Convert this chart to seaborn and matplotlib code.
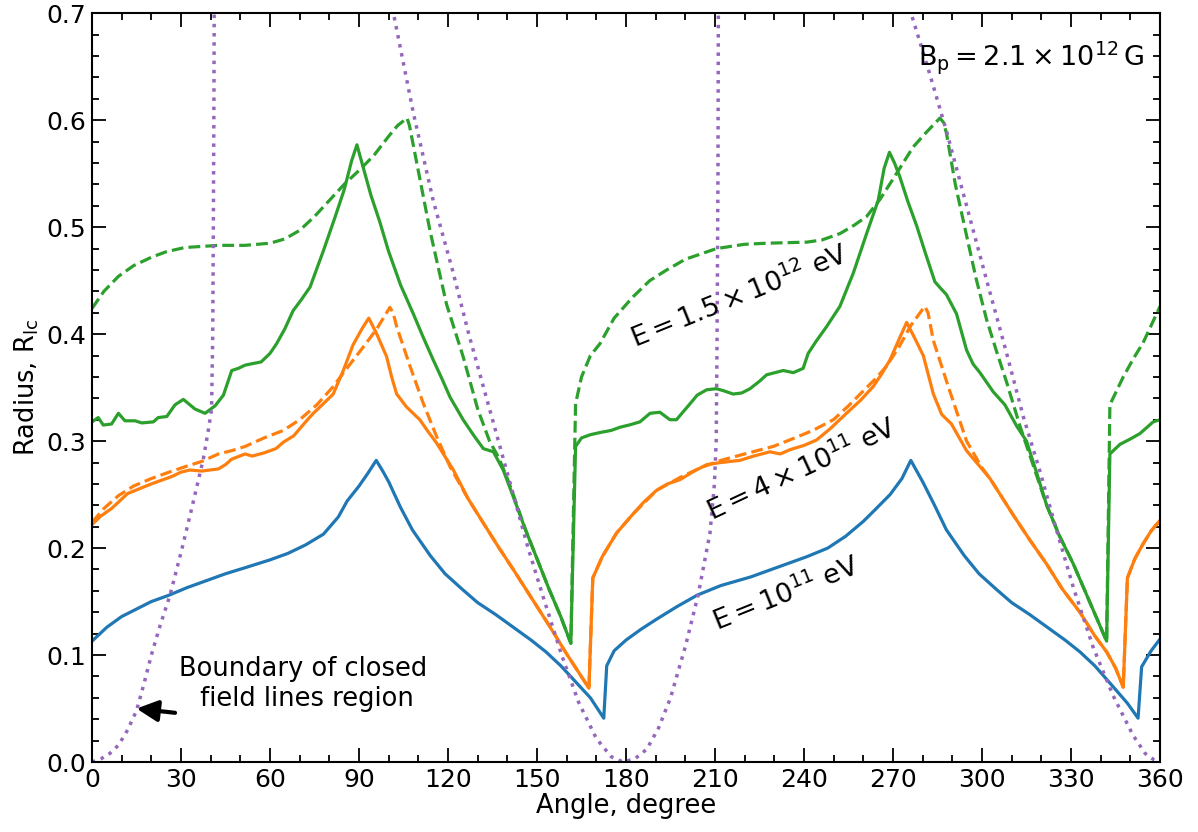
import numpy as np
import pandas as pd
import matplotlib
matplotlib.use("Agg")
import matplotlib.pyplot as plt
import seaborn as sns

# --- data (angle in degree, radius in R_lc) ---
blue_x = [0, 5, 10, 15, 20, 26, 32, 37, 45, 52, 60, 66, 72, 78, 83, 86, 90, 93, 95.8, 98, 100, 104, 108, 114,
          119, 125, 130, 136, 142, 148, 153, 158, 163, 168, 172.5, 173.5, 176, 180, 185, 190, 197, 204, 212, 222,
          232, 241, 248, 254, 260, 264, 269, 273, 276, 278, 280, 284, 288, 294, 299, 305, 310, 316, 322, 328,
          333, 338, 344, 349, 352.6, 353.8, 357, 360]
blue_y = [0.113, 0.126, 0.136, 0.143, 0.150, 0.156, 0.163, 0.168, 0.176, 0.182, 0.189, 0.195, 0.203, 0.213, 0.229,
          0.244, 0.258, 0.270, 0.282, 0.272, 0.262, 0.238, 0.217, 0.193, 0.176, 0.161, 0.149, 0.138, 0.126, 0.114,
          0.103, 0.090, 0.075, 0.060, 0.041, 0.090, 0.104, 0.114, 0.124, 0.133, 0.145, 0.156, 0.165, 0.173, 0.183,
          0.192, 0.200, 0.211, 0.225, 0.236, 0.250, 0.265, 0.282, 0.272, 0.262, 0.240, 0.217, 0.193, 0.176, 0.161,
          0.149, 0.138, 0.126, 0.114, 0.103, 0.090, 0.071, 0.055, 0.041, 0.089, 0.104, 0.115]

orange_x = [0, 3, 6.6, 12, 20, 27, 30, 33, 37, 42.6, 45, 47, 51.6, 54, 58, 62, 64.5, 68, 72, 74.6, 78, 81.3, 84.7,
            88, 91, 93.3, 96, 99.3, 101, 102.7, 106, 110.5, 113, 116.2, 121.8, 126.8, 132, 137, 142, 148, 154, 160,
            164, 167.5, 168.8, 172, 176.8, 182.4, 186, 190.3, 194, 198.2, 203, 207.2, 212, 218.4, 223, 228.5, 232,
            235.3, 240, 244.2, 249, 254.3, 259, 263.3, 266, 269, 272, 274.6, 277, 280.2, 283.6, 286.4, 289.7, 294.8,
            302.7, 310.5, 316, 321.8, 327, 333, 338, 342, 345, 347.6, 349, 351.5, 354.3, 357, 360]
orange_y = [0.222, 0.230, 0.237, 0.251, 0.260, 0.267, 0.271, 0.273, 0.272, 0.274, 0.278, 0.283, 0.288, 0.286, 0.289,
            0.293, 0.299, 0.305, 0.318, 0.326, 0.335, 0.344, 0.366, 0.390, 0.405, 0.415, 0.400, 0.379, 0.360, 0.344,
            0.332, 0.320, 0.310, 0.298, 0.273, 0.246, 0.223, 0.201, 0.180, 0.154, 0.128, 0.101, 0.084, 0.069, 0.172,
            0.192, 0.214, 0.232, 0.243, 0.254, 0.260, 0.264, 0.272, 0.278, 0.280, 0.282, 0.286, 0.290, 0.288, 0.292,
            0.296, 0.301, 0.312, 0.326, 0.338, 0.351, 0.362, 0.376, 0.395, 0.411, 0.398, 0.380, 0.344, 0.325, 0.316,
            0.291, 0.265, 0.231, 0.208, 0.185, 0.162, 0.140, 0.118, 0.103, 0.088, 0.070, 0.172, 0.190, 0.204, 0.216,
            0.226]

orange_d_x = [0, 4, 8.9, 14, 20, 26, 31.3, 37, 42.6, 47, 51.6, 58, 64.5, 70, 75.8, 81, 87, 92, 96, 100.4, 101.5,
              102.7, 107.2, 111.7, 116.2, 120.7, 126.8, 132, 137, 142, 148, 154, 160, 164, 167.5, 168.8, 172, 176.8,
              182.4, 190.3, 198.2, 205, 212, 220, 229.6, 236, 243, 249.9, 255, 260, 264, 267.8, 272, 276, 280.7,
              281.8, 283.6, 288.5, 294.8, 300, 302.7, 310.5, 316, 321.8, 327, 333, 338, 342, 345, 347.6, 349, 351.5,
              354.3, 357, 360]
orange_d_y = [0.224, 0.237, 0.249, 0.258, 0.265, 0.271, 0.276, 0.281, 0.288, 0.291, 0.295, 0.303, 0.310, 0.320,
              0.334, 0.350, 0.372, 0.390, 0.405, 0.425, 0.420, 0.407, 0.370, 0.335, 0.304, 0.276, 0.246, 0.223,
              0.201, 0.180, 0.154, 0.128, 0.101, 0.084, 0.069, 0.172, 0.192, 0.214, 0.232, 0.254, 0.266, 0.275,
              0.282, 0.288, 0.295, 0.302, 0.310, 0.320, 0.333, 0.347, 0.358, 0.370, 0.388, 0.408, 0.426, 0.420,
              0.394, 0.352, 0.300, 0.275, 0.265, 0.231, 0.208, 0.185, 0.162, 0.140, 0.118, 0.103, 0.088, 0.070,
              0.172, 0.190, 0.204, 0.216, 0.226]

green_x = [0, 2.1, 3.8, 6.6, 8.9, 11.1, 14.5, 16.8, 20.7, 22.3, 25.2, 28, 30.8, 34.7, 38.1, 41.5, 44.3, 47.1, 49.3,
           51.6, 53.3, 57, 60, 62.2, 65, 67.8, 70.5, 73.5, 78, 82, 85, 87.5, 89.3, 91, 94, 97, 99.9, 104, 108.3,
           111.5, 115, 118, 120.7, 125.1, 128.5, 131.9, 135.3, 138.6, 142, 146, 150, 154, 158, 161.4, 163, 165, 168,
           171.2, 175, 178, 181, 184.7, 188.1, 191.4, 194.8, 197, 201.6, 204, 207.2, 210.5, 213, 216.1, 219, 221.8,
           225, 227.4, 233, 236.4, 239.7, 241.4, 244, 247.6, 252.1, 256.6, 261.1, 265, 267, 268.8, 270.5, 272.3,
           275, 278, 281, 284.1, 286, 288, 291.4, 294.8, 297, 299.3, 303.8, 307.7, 311.7, 315, 318, 321.8, 326,
           330.8, 336.4, 342, 343.1, 346.5, 350, 353.2, 357.7, 360]
green_y = [0.318, 0.322, 0.315, 0.316, 0.326, 0.319, 0.319, 0.317, 0.318, 0.322, 0.323, 0.334, 0.339, 0.330, 0.326,
           0.333, 0.343, 0.366, 0.368, 0.371, 0.372, 0.374, 0.382, 0.391, 0.405, 0.422, 0.432, 0.444, 0.478, 0.510,
           0.535, 0.562, 0.577, 0.560, 0.530, 0.505, 0.478, 0.446, 0.419, 0.398, 0.376, 0.358, 0.341, 0.320, 0.306,
           0.293, 0.290, 0.273, 0.248, 0.218, 0.190, 0.162, 0.136, 0.111, 0.295, 0.303, 0.306, 0.308, 0.310, 0.313,
           0.315, 0.318, 0.326, 0.327, 0.320, 0.320, 0.335, 0.343, 0.348, 0.349, 0.347, 0.344, 0.345, 0.349, 0.356,
           0.362, 0.366, 0.364, 0.368, 0.382, 0.393, 0.407, 0.426, 0.457, 0.494, 0.525, 0.555, 0.570, 0.560, 0.547,
           0.524, 0.501, 0.475, 0.449, 0.443, 0.437, 0.419, 0.385, 0.372, 0.364, 0.346, 0.334, 0.314, 0.300, 0.274,
           0.240, 0.212, 0.185, 0.149, 0.113, 0.288, 0.297, 0.302, 0.307, 0.318, 0.320]

green_d_x = [0, 4, 8.9, 14, 20.1, 25, 31.3, 37, 42.6, 51.6, 60, 65, 70, 75, 80, 85, 90, 95, 100, 103, 106.2,
             107, 109.4, 113.9, 119.5, 125.2, 130, 134, 137, 140, 142, 146, 150, 154, 158, 161.4, 163, 165, 168,
             171.2, 176, 182.4, 188, 193.7, 200, 210.5, 220, 227.4, 240.9, 246, 252.1, 257, 261.1, 265.6, 270,
             276.8, 281, 285.8, 287, 288, 291, 294.8, 298, 301.5, 305, 308.3, 312.8, 317.3, 319, 321.8, 326, 330.8,
             336.4, 342, 343.1, 347.6, 351, 354.3, 357, 360]
green_d_y = [0.424, 0.440, 0.454, 0.464, 0.472, 0.477, 0.481, 0.482, 0.483, 0.483, 0.485, 0.489, 0.497, 0.510,
             0.525, 0.540, 0.553, 0.567, 0.585, 0.595, 0.602, 0.595, 0.561, 0.497, 0.428, 0.378, 0.330,
             0.300, 0.285, 0.265, 0.250, 0.218, 0.190, 0.162, 0.136, 0.111, 0.335, 0.360, 0.380, 0.391, 0.415,
             0.435, 0.450, 0.460, 0.470, 0.480, 0.484, 0.485, 0.486, 0.488, 0.494, 0.502, 0.510, 0.526, 0.545,
             0.575, 0.588, 0.602, 0.598, 0.588, 0.540, 0.492, 0.452, 0.414, 0.383, 0.355, 0.314, 0.277, 0.263,
             0.240, 0.212, 0.185, 0.149, 0.113, 0.334, 0.360, 0.377, 0.392, 0.408, 0.426]

# boundary of closed field lines region (goes off the top of the axes)
bound_x = [0, 3, 6, 9, 12, 15, 17.5, 20, 23, 26.3, 30.2, 33.6, 37.5, 39.2, 40.3, 40.7, 40.9, 41.1, 41.3, 95,
           101.6, 108.3, 115, 121.5, 127, 132, 137, 142, 147, 152, 158.3, 164, 170, 175, 179, 183, 187, 191, 195,
           200, 204.3, 208.3, 209.8, 210.4, 210.7, 211, 211.2, 270, 276.3, 282.4, 288, 294.8, 301.5, 308.3, 313.9,
           319.5, 325.1, 330.8, 337.5, 344.2, 350.9, 355, 358, 360]
bound_y = [0.0, 0.003, 0.008, 0.016, 0.030, 0.048, 0.073, 0.100, 0.128, 0.156, 0.198, 0.237, 0.283, 0.310, 0.330,
           0.400, 0.500, 0.620, 0.800, 0.790, 0.700, 0.607, 0.525, 0.460, 0.400, 0.350, 0.300, 0.250, 0.200, 0.155,
           0.100, 0.056, 0.022, 0.005, 0.0, 0.003, 0.012, 0.032, 0.060, 0.108, 0.156, 0.214, 0.260, 0.300, 0.400,
           0.550, 0.800, 0.790, 0.698, 0.643, 0.590, 0.520, 0.451, 0.382, 0.323, 0.272, 0.217, 0.163, 0.107, 0.062,
           0.025, 0.008, 0.002, 0.0]

xticks = list(range(0, 361, 30))
yticks = [0.0, 0.1, 0.2, 0.3, 0.4, 0.5, 0.6, 0.7]

sns.set_style("ticks")
plt.rcParams['font.family'] = ['DejaVu Sans']
plt.rcParams['mathtext.default'] = 'regular'
for k in ['text.color', 'axes.labelcolor', 'xtick.color', 'ytick.color', 'axes.edgecolor']:
    plt.rcParams[k] = 'black'

fig = plt.figure(figsize=(11.98, 8.32), dpi=100)
ax = fig.add_axes([0.0768, 0.0841, 0.8915, 0.9])

lw = 2.3
sns.lineplot(x=blue_x, y=blue_y, ax=ax, color='#1f77b4', lw=lw, sort=False, estimator=None)
sns.lineplot(x=orange_x, y=orange_y, ax=ax, color='#ff7f0e', lw=lw, sort=False, estimator=None)
sns.lineplot(x=orange_d_x, y=orange_d_y, ax=ax, color='#ff7f0e', lw=lw, ls='--', sort=False, estimator=None)
sns.lineplot(x=green_x, y=green_y, ax=ax, color='#2ca02c', lw=lw, sort=False, estimator=None)
sns.lineplot(x=green_d_x, y=green_d_y, ax=ax, color='#2ca02c', lw=lw, ls='--', sort=False, estimator=None)
sns.lineplot(x=bound_x, y=bound_y, ax=ax, color='#9467bd', lw=2.5, ls=':', sort=False, estimator=None)

ax.set_xlim(0, 360)
ax.set_ylim(0, 0.7)
ax.set_xticks(xticks)
ax.set_yticks(yticks)
ax.set_yticklabels([f"{v:.1f}" for v in yticks])
ax.xaxis.set_minor_locator(matplotlib.ticker.MultipleLocator(10))
ax.yaxis.set_minor_locator(matplotlib.ticker.MultipleLocator(0.02))
ax.tick_params(which='both', direction='in', top=True, right=True, width=1.3, labelsize=18, pad=4)
ax.tick_params(which='major', length=10)
ax.tick_params(which='minor', length=5)
for s in ax.spines.values():
    s.set_linewidth(1.5)

ax.set_xlabel("Angle, degree", fontsize=18.5, labelpad=1)
ax.set_ylabel(r"Radius, $R_{lc}$", fontsize=18.5, labelpad=4)

ax.text(0.985, 0.965, r"$B_p = 2.1\times10^{12}\,G$", transform=ax.transAxes,
        ha='right', va='top', fontsize=19.5)
ax.text(218.5, 0.435, r"$E = 1.5\times10^{12}$ eV", rotation=22, ha='center', va='center', fontsize=19.5,
        rotation_mode='anchor')
ax.text(239.5, 0.273, r"$E = 4\times10^{11}$ eV", rotation=25, ha='center', va='center', fontsize=19.5,
        rotation_mode='anchor')
ax.text(234, 0.157, r"$E = 10^{11}$ eV", rotation=22, ha='center', va='center', fontsize=19.5,
        rotation_mode='anchor')

ax.text(71, 0.073, "Boundary of closed\n field lines region", ha='center', va='center',
        multialignment='center', fontsize=18.5)
ax.annotate("", xy=(15.0, 0.050), xytext=(28, 0.046),
            arrowprops=dict(arrowstyle='-|>', color='black', lw=3, mutation_scale=32,
                            shrinkA=0, shrinkB=0))

fig.savefig("out.png", dpi=100)
